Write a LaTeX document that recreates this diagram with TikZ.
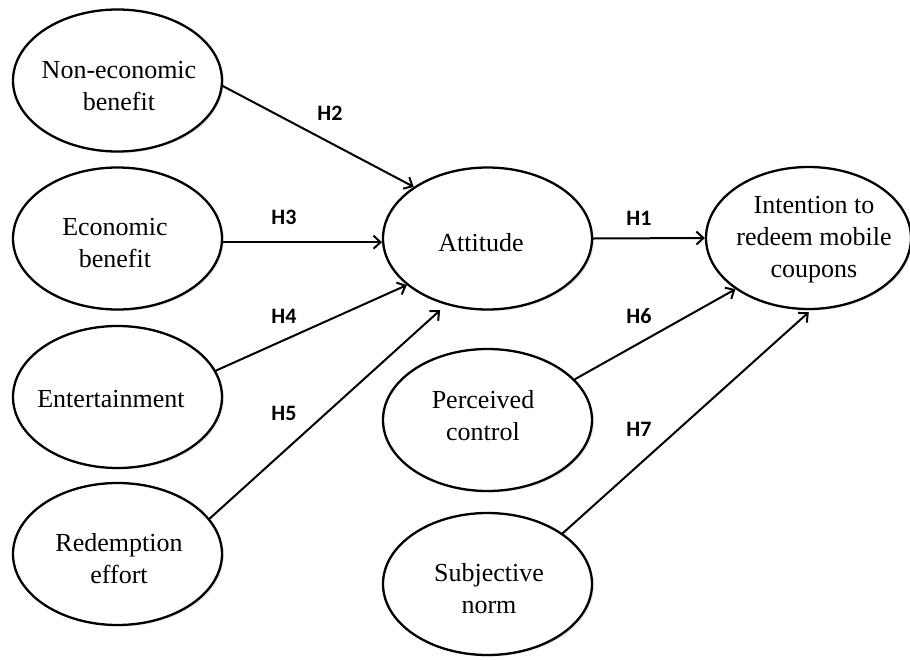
\documentclass[tikz,border=0pt]{standalone}
\usepackage{fontspec}
\setmainfont{Liberation Serif}
\newfontfamily\hfont{Carlito}[BoldFont={Carlito Bold}]
\usetikzlibrary{shapes.geometric,arrows.meta,shadows}
\begin{document}
\begin{tikzpicture}[x=1pt,y=-1pt,
  ell/.style={ellipse, draw, line width=2.3pt, fill=white, minimum width=209pt, minimum height=142pt, inner sep=0pt,
    drop shadow={shadow xshift=2pt, shadow yshift=-1.5pt, opacity=0.2}},
  ttext/.style={align=center, font=\fontsize{26}{32}\selectfont, inner sep=0pt},
  hyp/.style={font=\hfont\bfseries\fontsize{22}{24}\selectfont, inner sep=0pt},
  arr/.style={line width=2pt, -{Straight Barb[length=7pt,width=13pt]}}]
\useasboundingbox (0,0) rectangle (910,659);

% ellipses
\node[ell] (neb) at (117.5,80.5) {};
\node[ell] (eb)  at (117.5,238.5) {};
\node[ell] (ent) at (117.5,397) {};
\node[ell] (re)  at (117.5,554) {};
\node[ell] (att) at (487.5,238.5) {};
\node[ell, minimum width=205pt] (int) at (808.5,238) {};
\node[ell] (pc)  at (487.5,420) {};
\node[ell] (sn)  at (487.5,584) {};

% texts
\node[ttext] (neb-t) at (119,86.5) {Non-economic\\benefit};
\node[ttext] (eb-t)  at (115,242.8) {Economic\\benefit};
\node[ttext] (ent-t) at (111,399) {Entertainment};
\node[ttext] (re-t)  at (119,558.6) {Redemption\\effort};
\node[ttext] (att-t) at (481,243) {Attitude};
\node[ttext] (int-t) at (814,239.5) {Intention to\\redeem mobile\\coupons};
\node[ttext] (pc-t)  at (483,415.3) {Perceived\\control};
\node[ttext] (sn-t)  at (489,588.6) {Subjective\\norm};

% connectors
\draw[arr] (neb.-3) -- (att.145);
\draw[arr] (eb.-2) -- (att.182);
\draw[arr] (ent.15) -- (att.210);
\draw[arr, shorten >=8pt] (re.21) -- (att.238);
\draw[arr] (att.east) -- (int.west);
\draw[arr] (pc.25) -- (int.215);
\draw[arr, shorten >=3pt] (sn.34) -- (int.272);

% hypothesis labels
\node[hyp] (h2) at (330,113) {H2};
\node[hyp] (h3) at (284,217.5) {H3};
\node[hyp] (h4) at (284,316) {H4};
\node[hyp] (h5) at (284,413) {H5};
\node[hyp] (h1) at (639,218) {H1};
\node[hyp] (h6) at (639,316) {H6};
\node[hyp] (h7) at (639,429) {H7};
\end{tikzpicture}
\end{document}
